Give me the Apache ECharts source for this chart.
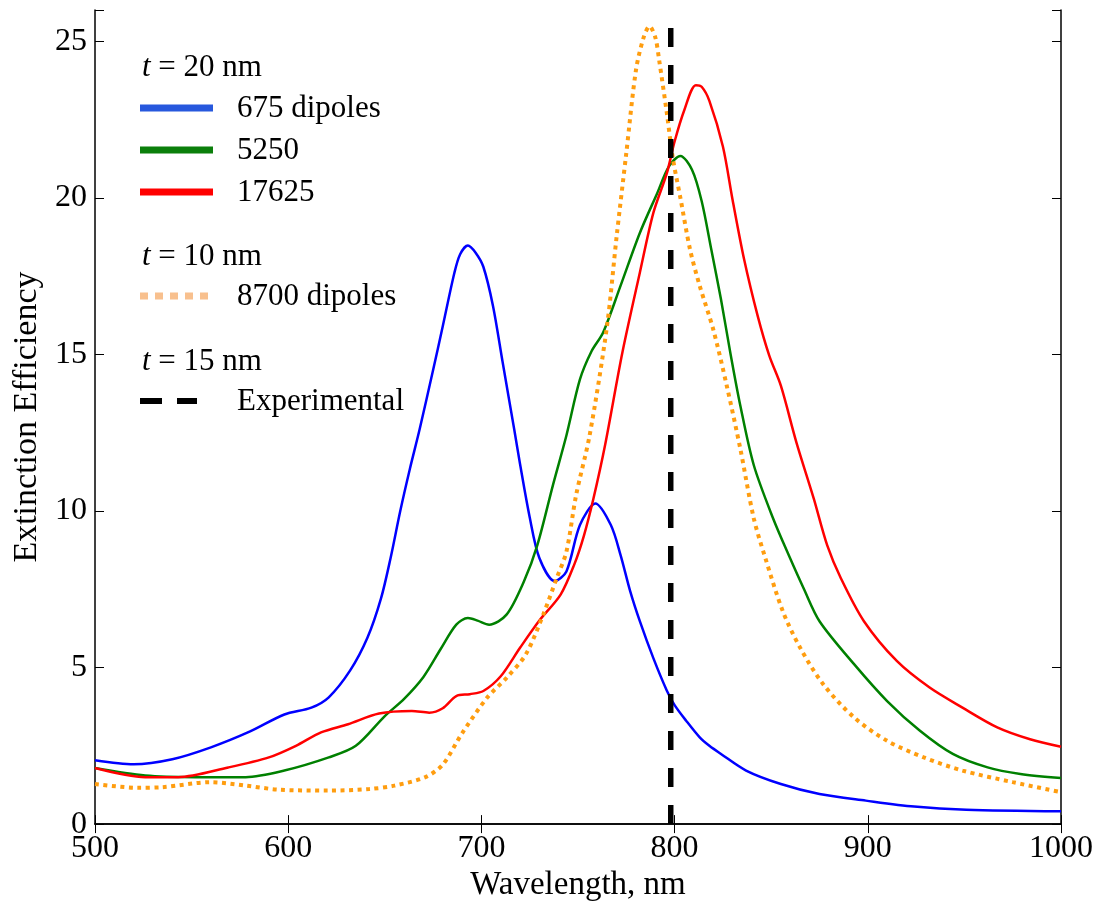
<!DOCTYPE html>
<html><head><meta charset="utf-8">
<script src="https://cdn.jsdelivr.net/npm/echarts@6/dist/echarts.min.js"></script>
<style>html,body{margin:0;padding:0;background:#fff}#c{width:1103px;height:907px}</style>
</head><body><div id="c"></div>
<script>
// ---- data ----
const blueWl  = [500,520,540,560,580,598,612,621,632,641,648,653,658,663,668,675,680,686,689,693,697,701,706,711,717,720,725,730,738,744,751,759,767,772,777,782,789,796,800,806,813,818,824,837,855,875,899,924,951,1000];
const blueVal = [2.04,1.91,2.07,2.45,2.95,3.5,3.72,4.05,4.9,5.95,7.2,8.5,10.0,11.35,12.6,14.5,15.9,17.6,18.2,18.48,18.25,17.8,16.55,14.75,12.6,11.5,9.8,8.5,7.76,8.07,9.55,10.24,9.55,8.6,7.44,6.48,5.3,4.26,3.8,3.3,2.77,2.5,2.24,1.71,1.28,0.96,0.75,0.56,0.46,0.41];

const greenWl  = [500,526,552,578,598,621,635,650,660,670,679,687,693,698,704,713,722,729,737,744,751,757,763,772,782,791,797,803,809,814,819,824,829,834,841,851,859,867,875,893,910,927,944,962,979,1000];
const greenVal = [1.79,1.55,1.5,1.5,1.71,2.13,2.5,3.45,4.0,4.7,5.6,6.37,6.58,6.5,6.37,6.69,7.75,8.92,10.82,12.41,14.2,15.1,15.7,17.19,18.88,20.15,21.0,21.34,20.9,19.9,18.35,16.76,15.0,13.37,11.46,9.76,8.6,7.5,6.48,5.1,3.93,2.98,2.24,1.81,1.6,1.47];

const redWl  = [500,526,543,569,590,604,617,631,647,664,673,680,687,694,701,710,720,730,741,748,753,758,764,773,782,789,796,800,805,811,814,818,825,830,836,843,849,855,863,872,879,886,898,915,932,949,967,984,1000];
const redVal = [1.79,1.5,1.5,1.81,2.13,2.5,2.93,3.19,3.53,3.61,3.56,3.7,4.09,4.15,4.25,4.72,5.63,6.5,7.33,8.28,9.2,10.4,12.1,15.07,17.61,19.52,20.79,21.8,22.8,23.6,23.55,23.1,21.64,19.94,18.03,16.23,14.96,14.0,12.2,10.4,8.9,7.86,6.48,5.21,4.36,3.72,3.09,2.71,2.47];

const orangeWl  = [500,522,535,560,578,595,621,642,655,671,680,690,703,713,723,732,739,744,749,756,765,770,775,780,784,787,790,792,796,799,803,808,813,820,827,834,841,847,856,865,877,893,910,929,949,975,1000];
const orangeVal = [1.28,1.16,1.18,1.34,1.23,1.1,1.07,1.12,1.23,1.5,1.9,2.9,4.04,4.67,5.42,6.69,7.86,8.7,10.5,12.41,15.9,18.77,21.43,24.08,25.13,25.48,25.13,24.4,22.7,21.3,20.0,18.35,17.19,15.8,14.0,11.99,9.76,8.49,6.8,5.63,4.46,3.4,2.66,2.13,1.71,1.34,1.02];

const expWl  = [798,798];
const expVal = [0,26];

const xTicks = [500,600,700,800,900,1000];
const yTicks = [0,5,10,15,20,25];

// ---- chart ----
function pairs(a,b){return a.map((x,i)=>[x,b[i]]);}
const FONT = '"Liberation Serif","Times New Roman",serif';
const chart = echarts.init(document.getElementById('c'), null, {renderer:'canvas'});

const lineAx = {show:true, lineStyle:{color:'#000', width:1.5}};
const tickAx = {show:true, inside:true, length:9, lineStyle:{color:'#000', width:1}};

const legendItems = [];
function txt(x,y,t){
  legendItems.push({type:'text', z:100, style:{text:t, x:x, y:y, fill:'#000', font:'31px '+FONT, verticalAlign:'middle',
    rich:{it:{fontStyle:'italic', fontSize:31, fontFamily:FONT, fill:'#000'}, n:{fontSize:31, fontFamily:FONT, fill:'#000'}}}});
}
function seg(y,color,w,dash){
  legendItems.push({type:'line', z:100, shape:{x1:140,y1:y,x2:dash==='dash'?197:213,y2:y},
    style:{stroke:color, lineWidth:w, lineDash: dash==='dot'?[8,7]:(dash==='dash'?[22,15]:null), lineCap:'butt'}});
}
txt(142,68,'{it|t}{n| = 20 nm}');
seg(108,'#2758dd',7); txt(237,109,'675 dipoles');
seg(150,'#0b7f0b',7); txt(237,151,'5250');
seg(192,'#ff0000',7); txt(237,193,'17625');
txt(142,257,'{it|t}{n| = 10 nm}');
seg(296,'#f8c08e',7,'dot'); txt(237,297,'8700 dipoles');
txt(142,362,'{it|t}{n| = 15 nm}');
seg(401,'#000000',6,'dash'); txt(237,402,'Experimental');

const option = {
  animation:false,
  backgroundColor:'#fff',
  grid:{left:95, top:10, right:42, bottom:80, containLabel:false},
  xAxis:[{
    type:'value', min:500, max:1000, interval:100, position:'bottom',
    axisLine:lineAx, axisTick:tickAx, splitLine:{show:false},
    axisLabel:{fontFamily:FONT, fontSize:32, color:'#000', margin:8,
      formatter:v=> xTicks.includes(v)?String(v):''},
    name:'Wavelength, nm', nameLocation:'middle', nameGap:40,
    nameTextStyle:{fontFamily:FONT, fontSize:33, color:'#000'}
  },{
    type:'value', min:500, max:1000, interval:100, position:'top',
    axisLine:lineAx, axisTick:tickAx, splitLine:{show:false}, axisLabel:{show:false}
  }],
  yAxis:[{
    type:'value', min:0, max:26, interval:5, position:'left',
    axisLine:lineAx, axisTick:tickAx, splitLine:{show:false},
    axisLabel:{fontFamily:FONT, fontSize:32, color:'#000', margin:8,
      formatter:v=> yTicks.includes(v)?String(v):''},
    name:'Extinction Efficiency', nameLocation:'middle', nameGap:50,
    nameTextStyle:{fontFamily:FONT, fontSize:34, color:'#000'}
  },{
    type:'value', min:0, max:26, interval:5, position:'right',
    axisLine:lineAx, axisTick:tickAx, splitLine:{show:false}, axisLabel:{show:false}
  }],
  series:[
    {type:'line', data:pairs(blueWl,blueVal), smooth:0.3, showSymbol:false, lineStyle:{color:'#0000ff', width:2.5}, z:2},
    {type:'line', data:pairs(greenWl,greenVal), smooth:0.3, showSymbol:false, lineStyle:{color:'#008000', width:2.5}, z:3},
    {type:'line', data:pairs(redWl,redVal), smooth:0.3, showSymbol:false, lineStyle:{color:'#ff0000', width:2.5}, z:4},
    {type:'line', data:pairs(orangeWl,orangeVal), smooth:0.3, showSymbol:false, lineStyle:{color:'#ff9d0f', width:4, type:[4,4.5], cap:'butt'}, z:5},
    {type:'line', data:pairs(expWl,expVal), showSymbol:false, lineStyle:{color:'#000', width:5.5, type:[19,18]}, z:6}
  ],
  graphic: legendItems
};
chart.setOption(option);
</script>
</body></html>
